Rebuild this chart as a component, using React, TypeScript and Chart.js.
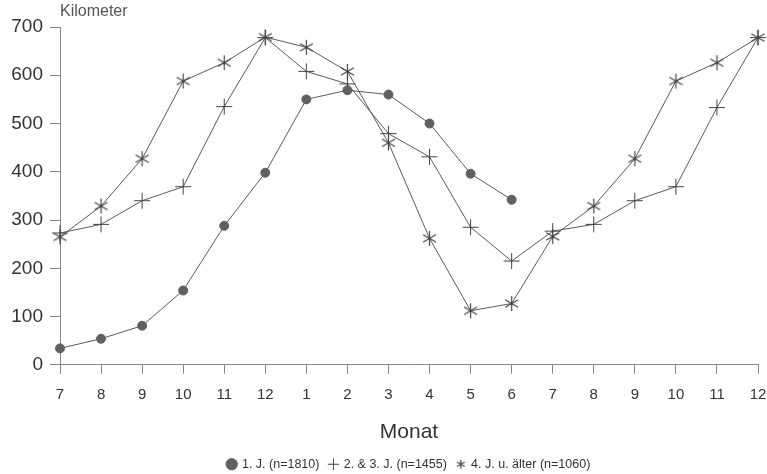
import React, { useEffect, useRef } from "react";
import { Chart, registerables } from "chart.js";

Chart.register(...registerables);

const months = ["7", "8", "9", "10", "11", "12", "1", "2", "3", "4", "5", "6", "7", "8", "9", "10", "11", "12"];
const seriesJ1 = [34, 54, 81, 154, 288, 398, 550, 569, 560, 500, 396, 342, null, null, null, null, null, null];
const seriesJ23 = [273, 291, 340, 369, 535, 678, 608, 582, 479, 431, 285, 215, 277, 291, 340, 369, 533, 678];
const seriesJ4 = [265, 329, 427, 588, 626, 679, 658, 608, 460, 262, 112, 127, 266, 329, 427, 588, 626, 678];
const seriesLabels = ["1. J. (n=1810)", "2. & 3. J. (n=1455)", "4. J. u. älter (n=1060)"];
const yTicks = [0, 100, 200, 300, 400, 500, 600, 700];

const FONT = "'Liberation Sans', Arial, Helvetica, sans-serif";

function makeAsterisk(size: number, color: string) {
  const c = document.createElement("canvas");
  c.width = size;
  c.height = size;
  const ctx = c.getContext("2d")!;
  const r = size / 2 - 1;
  const cx = size / 2;
  ctx.strokeStyle = color;
  ctx.lineWidth = 1.2;
  ctx.beginPath();
  [90, 30, 150].forEach((deg) => {
    const a = (deg * Math.PI) / 180;
    ctx.moveTo(cx - r * Math.cos(a), cx - r * Math.sin(a));
    ctx.lineTo(cx + r * Math.cos(a), cx + r * Math.sin(a));
  });
  ctx.stroke();
  return c;
}

const kmLabel = {
  id: "kmLabel",
  afterDraw(chart: any) {
    const { ctx, chartArea } = chart;
    ctx.save();
    ctx.font = `16px ${FONT}`;
    ctx.fillStyle = "#555";
    ctx.textAlign = "left";
    ctx.textBaseline = "middle";
    ctx.fillText("Kilometer", chartArea.left, 12);
    ctx.restore();
  },
};

export default function App() {
  const ref = useRef<HTMLCanvasElement | null>(null);
  useEffect(() => {
    if (!ref.current) return;
    const star = makeAsterisk(17, "#444");
    const legendStar = makeAsterisk(11, "#444");
    const lineColor = "#5a5a5a";
    const chart = new Chart(ref.current, {
      type: "line",
      data: {
        labels: months,
        datasets: [
          {
            label: seriesLabels[0],
            data: seriesJ1,
            borderColor: lineColor,
            borderWidth: 1,
            pointStyle: "circle",
            pointRadius: 4.5,
            pointBackgroundColor: "#606060",
            pointBorderColor: "#606060",
            spanGaps: false,
          },
          {
            label: seriesLabels[1],
            data: seriesJ23,
            borderColor: lineColor,
            borderWidth: 1,
            pointStyle: "cross",
            pointRadius: 8,
            pointBorderWidth: 1,
            pointBorderColor: "#444",
            pointBackgroundColor: "#444",
          },
          {
            label: seriesLabels[2],
            data: seriesJ4,
            borderColor: lineColor,
            borderWidth: 1,
            pointStyle: star as any,
            pointRadius: 8,
            pointBorderColor: "#444",
            pointBackgroundColor: "#444",
          },
        ],
      },
      options: {
        animation: false,
        responsive: false,
        layout: { padding: { top: 27, right: 3, left: 0, bottom: -6.5 } },
        plugins: {
          legend: {
            position: "bottom",
            fullSize: false,
            labels: {
              usePointStyle: true,
              font: { family: FONT, size: 12.5 },
              color: "#333",
              boxWidth: 8,
              boxHeight: 8,
              padding: 10,
              generateLabels: (c: any) => {
                const items = Chart.defaults.plugins.legend.labels.generateLabels(c);
                items.forEach((it: any, i: number) => {
                  if (i === 2) it.pointStyle = legendStar;
                  it.lineWidth = 1;
                });
                return items;
              },
            },
          },
          tooltip: { enabled: false },
        },
        scales: {
          x: {
            offset: false,
            border: { display: true, color: "#888", width: 1 },
            grid: { drawOnChartArea: false, drawTicks: true, tickLength: 9, color: "#888" },
            ticks: { font: { family: FONT, size: 15 }, color: "#333", padding: 12, autoSkip: false, maxRotation: 0 },
            title: { display: true, text: "Monat", font: { family: FONT, size: 21 }, color: "#333", padding: { top: 4, bottom: 3 } },
            afterFit: (s: any) => {
              s.paddingRight = 0;
              s.paddingLeft = 0;
            },
          },
          y: {
            min: 0,
            max: 700,
            border: { display: true, color: "#888", width: 1 },
            grid: { drawOnChartArea: false, drawTicks: true, tickLength: 10, color: "#888" },
            afterBuildTicks: (s: any) => {
              s.ticks = yTicks.map((v) => ({ value: v }));
            },
            afterFit: (s: any) => {
              s.width = 60;
            },
            ticks: { font: { family: FONT, size: 19 }, color: "#333", padding: 7 },
          },
        },
      },
      plugins: [kmLabel],
    });
    return () => chart.destroy();
  }, []);
  return (
    <div style={{ position: "absolute", left: 0, top: 0, width: 767, height: 474, background: "#fff", overflow: "hidden" }}>
      <canvas ref={ref} width={767} height={474} />
    </div>
  );
}
